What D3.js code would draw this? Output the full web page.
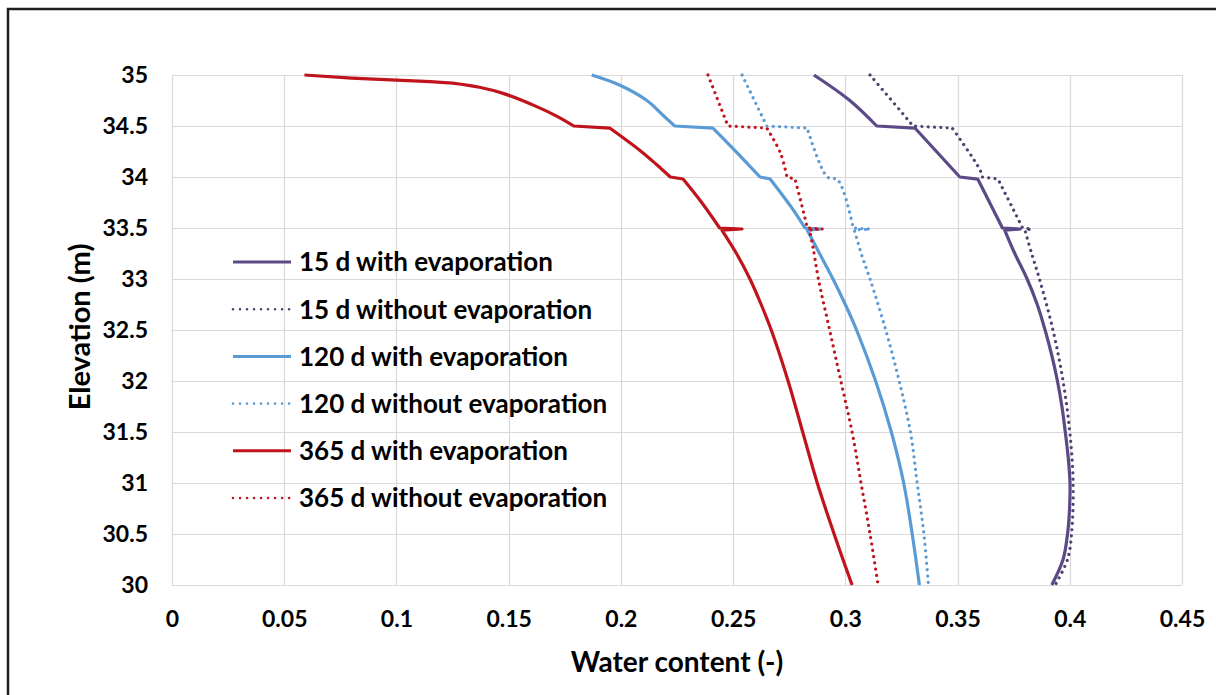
<!DOCTYPE html>
<html><head><meta charset="utf-8">
<script src="https://cdn.jsdelivr.net/npm/d3@7"></script>
<style>
html,body{margin:0;padding:0;background:#fff;}
svg{display:block;}
text{font-family:Lato,"Open Sans",sans-serif;font-weight:bold;fill:#000;}
</style></head>
<body><svg id="chart" width="1216" height="695"></svg>
<script>
// ---- data ----
const xTicks = [0,0.05,0.1,0.15,0.2,0.25,0.3,0.35,0.4,0.45];
const yTicks = [30,30.5,31,31.5,32,32.5,33,33.5,34,34.5,35];
const seriesNames = ["15 d with evaporation","15 d without evaporation","120 d with evaporation","120 d without evaporation","365 d with evaporation","365 d without evaporation"];
// [water content, elevation]
const wc15Evap = [[0.286,35.0],[0.302,34.75],[0.314,34.5],[0.331,34.48],[0.351,34.0],[0.359,33.98],[0.370,33.5],[0.378,33.49],[0.371,33.48],[0.3755,33.25],[0.381,33.0],[0.3855,32.75],[0.389,32.5],[0.392,32.25],[0.3945,32.0],[0.3965,31.75],[0.398,31.5],[0.3993,31.25],[0.4001,31.0],[0.3999,30.75],[0.399,30.5],[0.397,30.25],[0.392,30.0]];
const wc15NoEvap = [[0.311,35.0],[0.329,34.53],[0.33,34.5],[0.3476,34.48],[0.36,34.07],[0.361,34.0],[0.368,33.98],[0.379,33.5],[0.383,33.49],[0.38,33.48],[0.383,33.25],[0.3865,33.0],[0.3925,32.5],[0.397,32.0],[0.4,31.5],[0.4015,31.0],[0.4008,30.5],[0.399,30.25],[0.3935,30.0]];
const wc120Evap = [[0.187,35.0],[0.1996,34.9],[0.2116,34.75],[0.219,34.6],[0.224,34.5],[0.241,34.48],[0.2517,34.24],[0.262,34.0],[0.2665,33.98],[0.2767,33.68],[0.282,33.5],[0.289,33.49],[0.283,33.48],[0.2885,33.25],[0.2945,33.0],[0.3,32.75],[0.305,32.5],[0.3135,32.0],[0.3205,31.5],[0.326,31.0],[0.3298,30.5],[0.333,30.0]];
const wc120NoEvap = [[0.254,35.0],[0.265,34.5],[0.283,34.48],[0.292,34.0],[0.2967,33.97],[0.3035,33.5],[0.311,33.49],[0.304,33.48],[0.3075,33.22],[0.311,33.0],[0.318,32.5],[0.324,32.0],[0.329,31.5],[0.332,31.0],[0.335,30.5],[0.337,30.0]];
const wc365Evap = [[0.059,35.0],[0.08,34.97],[0.1,34.95],[0.115,34.935],[0.125,34.92],[0.137,34.88],[0.1475,34.82],[0.1625,34.69],[0.172,34.59],[0.179,34.5],[0.195,34.48],[0.2085,34.26],[0.216,34.12],[0.222,34.0],[0.2277,33.98],[0.236,33.75],[0.244,33.5],[0.254,33.49],[0.245,33.48],[0.2515,33.25],[0.2575,33.0],[0.2625,32.75],[0.267,32.5],[0.2745,32.0],[0.281,31.5],[0.2875,31.0],[0.295,30.5],[0.303,30.0]];
const wc365NoEvap = [[0.2388,35.0],[0.2477,34.5],[0.265,34.48],[0.271,34.24],[0.274,34.0],[0.2776,33.98],[0.282,33.6],[0.283,33.5],[0.29,33.49],[0.284,33.48],[0.2856,33.31],[0.288,33.0],[0.293,32.5],[0.298,32.0],[0.303,31.5],[0.307,31.0],[0.311,30.5],[0.3146,30.0]];

const seriesData = [wc15Evap, wc15NoEvap, wc120Evap, wc120NoEvap, wc365Evap, wc365NoEvap];
const seriesColors = ["#5B4A86","#4F4272","#5B9BD5","#5B9BD5","#C0141C","#C0141C"];
const seriesDotted = [false,true,false,true,false,true];

// ---- layout ----
const svg = d3.select("#chart");
const L = 172, R = 1182, T = 75, B = 585;
const x = d3.scaleLinear().domain([0,0.45]).range([L,R]);
const y = d3.scaleLinear().domain([30,35]).range([B,T]);

// outer frame
svg.append("rect").attr("x",8).attr("y",9).attr("width",1230).attr("height",720)
  .attr("fill","none").attr("stroke","#1e1e1e").attr("stroke-width",2.5);

// gridlines
const grid = svg.append("g");
grid.selectAll("line.v").data(xTicks).join("line")
  .attr("x1",d=>Math.round(x(d))+0.5).attr("x2",d=>Math.round(x(d))+0.5)
  .attr("y1",T).attr("y2",B).attr("stroke","#d9d9d9").attr("stroke-width",1.2);
grid.selectAll("line.h").data(yTicks).join("line")
  .attr("y1",d=>Math.round(y(d))+0.5).attr("y2",d=>Math.round(y(d))+0.5)
  .attr("x1",L).attr("x2",R).attr("stroke","#d9d9d9").attr("stroke-width",1.2);

// axes (labels only)
const fmt = d => String(+d.toFixed(2));
const xAxis = svg.append("g").attr("transform",`translate(0,${B})`)
  .call(d3.axisBottom(x).tickValues(xTicks).tickFormat(fmt).tickSize(0).tickPadding(26));
xAxis.select(".domain").remove();
xAxis.selectAll("text").attr("font-size",23).attr("font-family","Lato").attr("font-weight","bold").attr("fill","#000");
const yAxis = svg.append("g").attr("transform",`translate(${L},0)`)
  .call(d3.axisLeft(y).tickValues(yTicks).tickFormat(fmt).tickSize(0).tickPadding(24));
yAxis.select(".domain").remove();
yAxis.selectAll("text").attr("font-size",23).attr("font-family","Lato").attr("font-weight","bold").attr("fill","#000");

// axis titles
svg.append("text").attr("x",677).attr("y",672).attr("text-anchor","middle")
  .attr("font-size",28).text("Water content (-)");
svg.append("text").attr("transform","translate(90,327) rotate(-90)").attr("text-anchor","middle")
  .attr("font-size",29).text("Elevation (m)");

// lines: smoothed within each layer, straight at the layer jogs
const smooth = d3.line().x(d=>x(d[0])).y(d=>y(d[1])).curve(d3.curveCatmullRom.alpha(0.5));
function pathFor(s){
  const runs = [[s[0]]];
  for (let k=1;k<s.length;k++){
    if (Math.abs(s[k][1]-s[k-1][1]) < 0.025) runs.push([s[k]]);
    else runs[runs.length-1].push(s[k]);
  }
  return runs.map((r,j)=>{
    if (r.length===1) return (j===0?"M":"L")+x(r[0][0])+","+y(r[0][1]);
    const p = smooth(r);
    return j===0 ? p : "L"+p.slice(1);
  }).join("");
}
const plot = svg.append("g");
seriesData.forEach((s,i)=>{
  plot.append("path").attr("d",pathFor(s)).attr("fill","none")
    .attr("stroke",seriesColors[i]).attr("stroke-width",3.2)
    .attr("stroke-linejoin","round")
    .attr("stroke-linecap",seriesDotted[i]?"round":"butt")
    .attr("stroke-dasharray",seriesDotted[i]?"0.01,6.3":null);
});

// legend
const leg = svg.append("g");
seriesNames.forEach((n,i)=>{
  const yy = 262 + i*47.2;
  leg.append("line").attr("x1",233).attr("x2",291).attr("y1",yy).attr("y2",yy)
    .attr("stroke",seriesColors[i]).attr("stroke-width",seriesDotted[i]?2.6:3)
    .attr("stroke-linecap",seriesDotted[i]?"round":"butt")
    .attr("stroke-dasharray",seriesDotted[i]?"0.01,7":null);
  leg.append("text").attr("x",299).attr("y",yy).attr("dy","0.36em")
    .attr("font-size",26).text(n);
});
</script></body></html>
